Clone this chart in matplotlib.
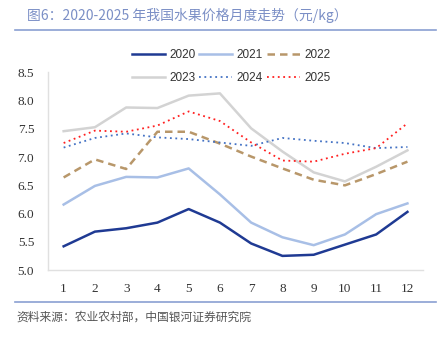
import matplotlib.pyplot as plt
from matplotlib.lines import Line2D

plt.rcParams['font.family'] = ['Noto Sans CJK SC', 'DejaVu Sans']

months = [1, 2, 3, 4, 5, 6, 7, 8, 9, 10, 11, 12]
p2020 = [5.42, 5.68, 5.74, 5.84, 6.08, 5.84, 5.47, 5.25, 5.27, 5.45, 5.63, 6.03]
p2021 = [6.16, 6.49, 6.65, 6.64, 6.80, 6.34, 5.84, 5.58, 5.44, 5.63, 5.99, 6.18]
p2022 = [6.64, 6.96, 6.79, 7.45, 7.45, 7.24, 7.01, 6.80, 6.60, 6.50, 6.70, 6.92]
p2023 = [7.46, 7.53, 7.88, 7.87, 8.09, 8.13, 7.51, 7.10, 6.73, 6.57, 6.83, 7.12]
p2024 = [7.17, 7.34, 7.42, 7.35, 7.32, 7.26, 7.20, 7.34, 7.29, 7.25, 7.16, 7.18]
p2025 = [7.25, 7.47, 7.45, 7.56, 7.81, 7.64, 7.26, 6.94, 6.92, 7.06, 7.16, 7.60]

fig = plt.figure(figsize=(4.43, 3.41), dpi=100)
ax = fig.add_axes([0.1084, 0.2082, 0.8466, 0.5792])

l20, = ax.plot(months, p2020, color='#1f3a93', lw=1.8, label='2020')
l21, = ax.plot(months, p2021, color='#a8bfe6', lw=1.8, label='2021')
l22, = ax.plot(months, p2022, color='#b8976a', lw=1.8, ls=(0, (3, 2)), label='2022')
l23, = ax.plot(months, p2023, color='#d3d3d3', lw=1.8, label='2023')
l24, = ax.plot(months, p2024, color='#4472c4', lw=1.3, ls=(0, (1, 2)), label='2024')
l25, = ax.plot(months, p2025, color='#ff2020', lw=1.3, ls=(0, (1, 2)), label='2025')

ax.set_xlim(0.5, 12.5)
ax.set_ylim(5.0, 8.5)
ax.set_xticks(months)
ax.set_yticks([5.0, 5.5, 6.0, 6.5, 7.0, 7.5, 8.0, 8.5])
ax.set_yticklabels(['%.1f' % v for v in ax.get_yticks()])
for lab in ax.get_xticklabels() + ax.get_yticklabels():
    lab.set_family('Liberation Serif')
    lab.set_fontsize(9.5)
    lab.set_color('#333333')
ax.tick_params(length=0)
ax.tick_params(axis='y', pad=10)
ax.tick_params(axis='x', pad=9)
for s in ['top', 'right']:
    ax.spines[s].set_visible(False)
for s in ['left', 'bottom']:
    ax.spines[s].set_color('#e0e0e0')
    ax.spines[s].set_linewidth(1.0)

# legend fills by column, so interleave to get rows 2020-2022 / 2023-2025
order = [l20, l23, l21, l24, l22, l25]
leg = ax.legend(order, [h.get_label() for h in order], ncol=3, loc='center',
                bbox_to_anchor=(0.488, 1.03), frameon=False,
                prop={'family': 'Liberation Sans', 'size': 8.5},
                handlelength=2.8, columnspacing=0.35, handletextpad=0.35,
                labelspacing=0.9)
for t in leg.get_texts():
    t.set_color('#333333')

fig.text(0.061, 0.955, '图6：2020-2025 年我国水果价格月度走势（元/kg）',
         fontsize=10, color='#7b8fc6', va='center', ha='left')
fig.add_artist(Line2D([0.034, 0.984], [0.913, 0.913], color='#8aa0d2', lw=1.2))
fig.add_artist(Line2D([0.034, 0.984], [0.115, 0.115], color='#8aa0d2', lw=1.2))
fig.text(0.036, 0.07, '资料来源：农业农村部，中国银河证券研究院',
         fontsize=8.5, color='#555555', va='center', ha='left', style='italic')

fig.savefig('out.png', dpi=100)
